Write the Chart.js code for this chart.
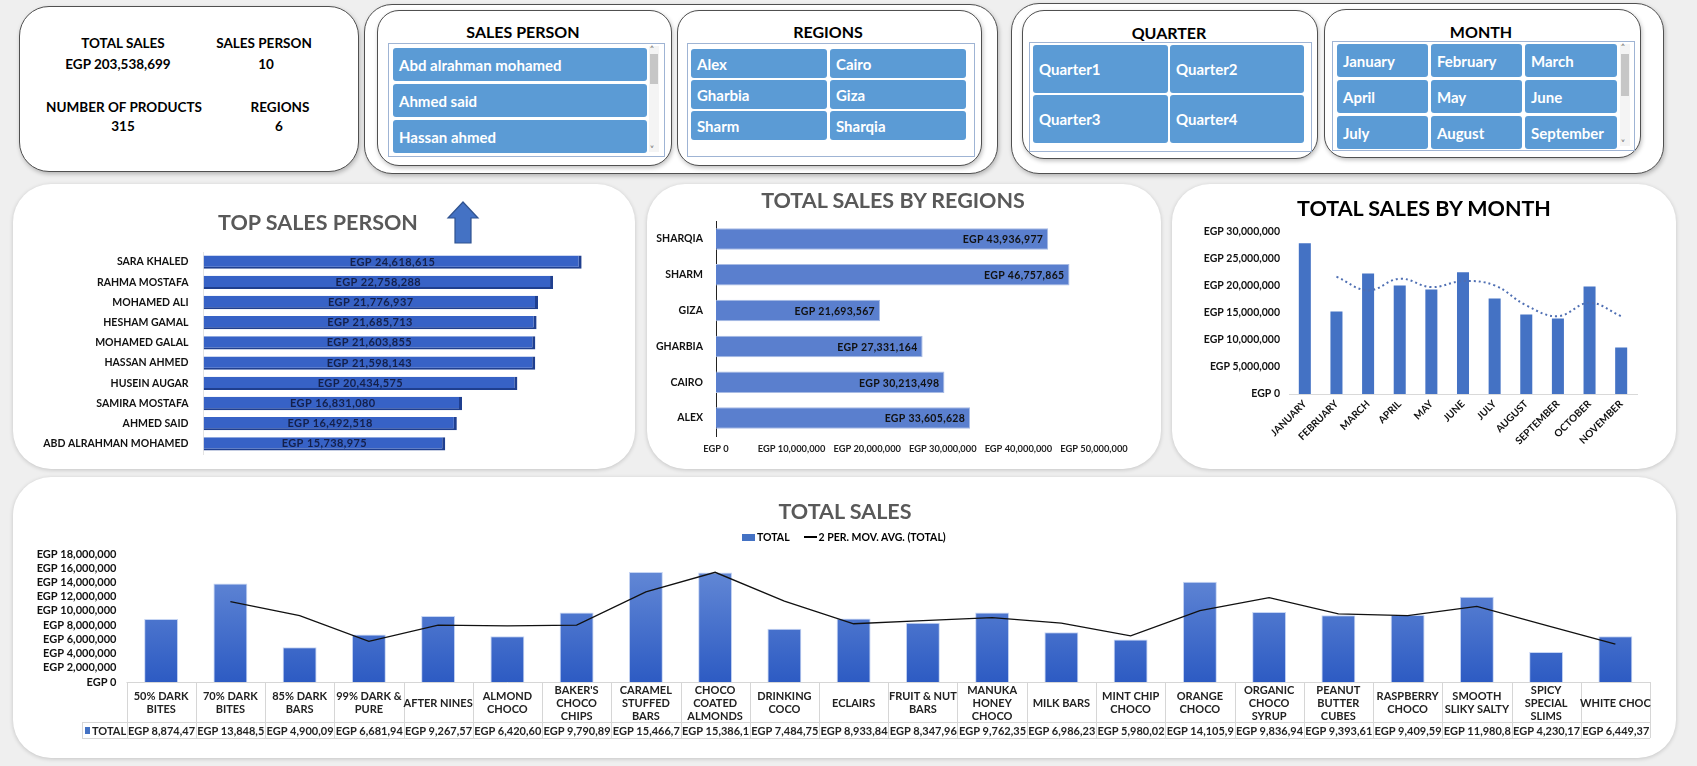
<!DOCTYPE html>
<html>
<head>
<meta charset="utf-8">
<title>Sales Dashboard</title>
<script src="https://cdn.jsdelivr.net/npm/chart.js@4.4.1/dist/chart.umd.min.js"></script>
<style>
  body { margin: 0; background: #efefef; font-family: Lato, "Open Sans", sans-serif; font-weight: bold; color: #000; }
  #page { position: relative; width: 1697px; height: 766px; overflow: hidden; }
  .card { position: absolute; background: #fff; border-radius: 38px; box-shadow: 0 1px 4px rgba(0,0,0,.18); }
  .box { position: absolute; background: #fff; border: 1px solid #505050; box-shadow: 1px 2px 4px rgba(0,0,0,.25); }
  .t { position: absolute; white-space: nowrap; transform: translate(-50%, -50%); }
  .title { font-size: 21.5px; color: #595959; }
  canvas { position: absolute; left: 0; top: 0; }
  .inner { position: absolute; border: 1px solid #9fb4d4; overflow: hidden; background: #fff; }
  .btn { position: absolute; background: #5b9bd5; color: #fff; border-radius: 3px; font-size: 15px;
         box-sizing: border-box; padding-left: 6px; display: flex; align-items: center; white-space: nowrap; overflow: hidden; }
  .sb { position: absolute; background: #f4f4f4; }
  .thumb { position: absolute; background: #c6c6c6; left: 1px; right: 1px; }
  .kpi { font-size: 13.5px; }
  .legend { position: absolute; font-size: 10.5px; display: flex; align-items: center; white-space: nowrap; }
</style>
</head>
<body>
<div id="page">
  <!-- KPI card -->
  <div class="box" style="left:19px;top:6px;width:338px;height:164px;border-radius:30px;"></div>
  <div class="t kpi" style="left:123px;top:43px;">TOTAL SALES</div>
  <div class="t kpi" style="left:118px;top:64px;">EGP 203,538,699</div>
  <div class="t kpi" style="left:264px;top:43px;">SALES PERSON</div>
  <div class="t kpi" style="left:266px;top:64px;">10</div>
  <div class="t kpi" style="left:124px;top:107px;">NUMBER OF PRODUCTS</div>
  <div class="t kpi" style="left:123px;top:126px;">315</div>
  <div class="t kpi" style="left:280px;top:107px;">REGIONS</div>
  <div class="t kpi" style="left:279px;top:126px;">6</div>

  <!-- slicer groups -->
  <div class="box" style="left:364px;top:4px;width:632px;height:168px;border-radius:28px;"></div>
  <div class="box" style="left:377px;top:10px;width:293px;height:154px;border-radius:22px;"></div>
  <div class="box" style="left:677px;top:10px;width:303px;height:154px;border-radius:22px;"></div>
  <div class="box" style="left:1011px;top:3px;width:651px;height:169px;border-radius:28px;"></div>
  <div class="box" style="left:1022px;top:10px;width:294px;height:147px;border-radius:22px;"></div>
  <div class="box" style="left:1324px;top:9px;width:315px;height:147px;border-radius:22px;"></div>
  <div id="slicers"></div>

  <!-- chart cards -->
  <div class="card" style="left:13px;top:184px;width:622px;height:285px;"><canvas id="personChart" width="622" height="285"></canvas></div>
  <div class="card" style="left:647px;top:184px;width:514px;height:285px;"><canvas id="regionChart" width="514" height="285"></canvas></div>
  <div class="card" style="left:1172px;top:184px;width:504px;height:285px;"><canvas id="monthChart" width="504" height="285"></canvas></div>
  <div class="card" style="left:13px;top:477px;width:1663px;height:281px;"><canvas id="productChart" width="1663" height="281"></canvas></div>

  <div class="t title" style="left:318px;top:222px;">TOP SALES PERSON</div>
  <svg style="position:absolute;left:446px;top:201px;" width="34" height="44">
    <polygon points="17,1 32,17 25,17 25,42 9,42 9,17 2,17" fill="#4472c4" stroke="#2f528f" stroke-width="1.2"/>
  </svg>
  <div class="t title" style="left:893px;top:200px;">TOTAL SALES BY REGIONS</div>
  <div class="t title" style="left:1424px;top:208px;color:#000;">TOTAL SALES BY MONTH</div>
  <div class="t title" style="left:845px;top:511px;">TOTAL SALES</div>
  <div class="legend" style="left:742px;top:531px;">
    <span style="display:inline-block;width:13px;height:7px;background:#4472c4;margin-right:2px;"></span>TOTAL
    <span style="display:inline-block;width:13px;height:1.5px;background:#000;margin:0 2px 0 14px;"></span>2 PER. MOV. AVG. (TOTAL)
  </div>
</div>

<script>
// ---- data ----
const salesPersonItems = ['Abd alrahman mohamed', 'Ahmed said', 'Hassan ahmed'];
const regionItems = ['Alex', 'Cairo', 'Gharbia', 'Giza', 'Sharm', 'Sharqia'];
const quarterItems = ['Quarter1', 'Quarter2', 'Quarter3', 'Quarter4'];
const monthItems = ['January', 'February', 'March', 'April', 'May', 'June', 'July', 'August', 'September'];

const personNames = ['SARA KHALED', 'RAHMA MOSTAFA', 'MOHAMED ALI', 'HESHAM GAMAL', 'MOHAMED GALAL',
  'HASSAN AHMED', 'HUSEIN AUGAR', 'SAMIRA MOSTAFA', 'AHMED SAID', 'ABD ALRAHMAN MOHAMED'];
const personSales = [24618615, 22758288, 21776937, 21685713, 21603855, 21598143, 20434575, 16831080, 16492518, 15738975];

const regionNames = ['SHARQIA', 'SHARM', 'GIZA', 'GHARBIA', 'CAIRO', 'ALEX'];
const regionSales = [43936977, 46757865, 21693567, 27331164, 30213498, 33605628];

const monthNames = ['JANUARY', 'FEBRUARY', 'MARCH', 'APRIL', 'MAY', 'JUNE', 'JULY', 'AUGUST', 'SEPTEMBER', 'OCTOBER', 'NOVEMBER'];
const monthSales = [27840000, 15250000, 22280000, 20060000, 19320000, 22470000, 17650000, 14690000, 13950000, 19880000, 8580000];
const monthAvg = [null, 21670000, 19140000, 21300000, 19750000, 20860000, 20060000, 16360000, 14380000, 16850000, 14380000];

const productNames = [['50% DARK', 'BITES'], ['70% DARK', 'BITES'], ['85% DARK', 'BARS'], ['99% DARK &', 'PURE'],
  ['AFTER NINES'], ['ALMOND', 'CHOCO'], ["BAKER'S", 'CHOCO', 'CHIPS'], ['CARAMEL', 'STUFFED', 'BARS'],
  ['CHOCO', 'COATED', 'ALMONDS'], ['DRINKING', 'COCO'], ['ECLAIRS'], ['FRUIT & NUT', 'BARS'],
  ['MANUKA', 'HONEY', 'CHOCO'], ['MILK BARS'], ['MINT CHIP', 'CHOCO'], ['ORANGE', 'CHOCO'],
  ['ORGANIC', 'CHOCO', 'SYRUP'], ['PEANUT', 'BUTTER', 'CUBES'], ['RASPBERRY', 'CHOCO'], ['SMOOTH', 'SLIKY SALTY'],
  ['SPICY', 'SPECIAL', 'SLIMS'], ['WHITE CHOC']];
const productSales = [8874470, 13848500, 4900090, 6681940, 9267570, 6420600, 9790890, 15466700, 15386100, 7484750, 8933840,
  8347960, 9762350, 6986230, 5980020, 14105900, 9836940, 9393610, 9409590, 11980800, 4230170, 6449370];
const productAvg = [null, 11290000, 9330000, 5710000, 8000000, 7900000, 8000000, 12670000, 15430000, 11380000, 8190000,
  8620000, 9050000, 8290000, 6480000, 10050000, 11860000, 9570000, 9330000, 10620000, 7950000, 5330000];

const egp = v => 'EGP ' + Number(v).toLocaleString('en-US');

// ---- slicers (html) ----
const host = document.getElementById('slicers');
function add(html) { host.insertAdjacentHTML('beforeend', html); }

function slicer(title, cx, inner, items, cols, colX, colW, rowY, rowH, scroll) {
  add('<div class="t" style="left:' + cx + 'px;top:' + inner.head + 'px;font-size:16px;">' + title + '</div>');
  let h = '<div class="inner" style="left:' + inner.x + 'px;top:' + inner.y + 'px;width:' + inner.w + 'px;height:' + inner.h + 'px;">';
  items.forEach((it, i) => {
    const c = i % cols, r = Math.floor(i / cols);
    h += '<div class="btn" style="left:' + (colX[c] - inner.x - 1) + 'px;top:' + (rowY[r] - inner.y - 1) +
      'px;width:' + colW[c] + 'px;height:' + rowH + 'px;">' + it + '</div>';
  });
  if (scroll) {
    h += '<div class="sb" style="left:' + (scroll.x - inner.x - 1) + 'px;top:2px;width:10px;height:' + (inner.h - 6) + 'px;">' +
      '<div class="thumb" style="top:' + scroll.t + 'px;height:' + scroll.h + 'px;"></div>' +
      '<div style="position:absolute;top:-3px;left:1px;font-size:8px;color:#777;">&#708;</div>' +
      '<div style="position:absolute;bottom:-1px;left:1px;font-size:8px;color:#777;">&#709;</div></div>';
  }
  add(h + '</div>');
}

slicer('SALES PERSON', 523, {x: 388, y: 43, w: 275, h: 112, head: 31}, salesPersonItems, 1,
  [393], [254], [48, 84, 120], 33, {x: 649, t: 8, h: 30});
slicer('REGIONS', 828, {x: 687, y: 43, w: 286, h: 112, head: 31}, regionItems, 2,
  [691, 830], [136, 136], [49, 80, 111], 29, null);
slicer('QUARTER', 1169, {x: 1029, y: 42, w: 281, h: 108, head: 32}, quarterItems, 2,
  [1033, 1170], [135, 134], [45, 95], 48, null);
slicer('MONTH', 1481, {x: 1332, y: 41, w: 301, h: 108, head: 31}, monthItems, 3,
  [1337, 1431, 1525], [91, 91, 92], [44, 80, 116], 33, {x: 1620, t: 10, h: 42});

// ---- chart.js ----
Chart.defaults.font.family = 'Lato, "Open Sans", sans-serif';
Chart.defaults.font.weight = 'bold';
Chart.defaults.color = '#111';
Chart.defaults.animation = false;
Chart.defaults.responsive = false;
Chart.defaults.plugins.legend.display = false;
Chart.defaults.plugins.tooltip.enabled = false;

// value labels on bars
const barLabels = {
  id: 'barLabels',
  afterDatasetsDraw(chart, args, opts) {
    const ctx = chart.ctx;
    const meta = chart.getDatasetMeta(0);
    ctx.save();
    ctx.font = opts.font;
    ctx.fillStyle = opts.color;
    ctx.textBaseline = 'middle';
    if ('letterSpacing' in ctx) ctx.letterSpacing = opts.spacing || '0px';
    meta.data.forEach((bar, i) => {
      const txt = egp(chart.data.datasets[0].data[i]);
      if (opts.align === 'center') {
        ctx.textAlign = 'center';
        ctx.fillText(txt, (bar.x + bar.base) / 2, bar.y);
      } else {
        ctx.textAlign = 'right';
        ctx.fillText(txt, bar.x - opts.inset, bar.y + 1);
      }
    });
    ctx.restore();
  }
};

// top sales person
new Chart(document.getElementById('personChart'), {
  type: 'bar',
  data: {
    labels: personNames,
    datasets: [{
      data: personSales,
      backgroundColor: '#3762c6',
      borderColor: '#1f3f8f',
      borderWidth: {right: 3, bottom: 2, top: 0, left: 0},
      borderSkipped: false,
      barPercentage: 0.66,
      categoryPercentage: 1
    }]
  },
  options: {
    indexAxis: 'y',
    layout: {padding: {top: 68, bottom: 15, right: 47.5, left: 0}},
    scales: {
      x: {display: false, min: 0, max: 25000000},
      y: {
        grid: {display: false, drawTicks: false},
        border: {color: '#e4e4e4'},
        ticks: {font: {size: 10.5}, padding: 15, color: '#111'},
        afterFit(s) { s.width = 190.5; s.paddingTop = 0; s.paddingBottom = 0; }
      }
    },
    plugins: {barLabels: {align: 'center', font: 'bold 11px Lato', color: '#14204a', spacing: '0.4px'}}
  },
  plugins: [barLabels]
});

// regions
new Chart(document.getElementById('regionChart'), {
  type: 'bar',
  data: {
    labels: regionNames,
    datasets: [{
      data: regionSales,
      backgroundColor: '#5a7fce',
      borderColor: '#a8bbe4',
      borderWidth: 1,
      barPercentage: 0.6,
      categoryPercentage: 1
    }]
  },
  options: {
    indexAxis: 'y',
    layout: {padding: {top: 37, bottom: 0, right: 67, left: 0}},
    scales: {
      x: {
        min: 0, max: 50000000,
        grid: {display: false, drawTicks: false},
        border: {display: false},
        ticks: {stepSize: 10000000, autoSkip: false, maxRotation: 0, padding: 7,
          font: {size: 9.3}, color: '#222', callback: v => egp(v)},
        afterFit(s) { s.height = 33; }
      },
      y: {
        grid: {display: false, drawTicks: false},
        border: {color: '#222', width: 1},
        ticks: {font: {size: 10.5}, padding: 13, color: '#111'},
        afterFit(s) { s.width = 69; s.paddingTop = 0; s.paddingBottom = 0; }
      }
    },
    plugins: {barLabels: {align: 'end', inset: 5, font: 'bold 10.5px Lato', color: '#111', spacing: '0.3px'}}
  },
  plugins: [barLabels]
});

// by month
new Chart(document.getElementById('monthChart'), {
  data: {
    labels: monthNames,
    datasets: [
      {
        type: 'line', order: 0, data: monthAvg,
        borderColor: '#4f6fb3', borderWidth: 2, borderDash: [2, 3], tension: 0.4,
        pointRadius: 0, spanGaps: false, fill: false
      },
      {
        type: 'bar', order: 1, data: monthSales,
        backgroundColor: '#4472c4', barPercentage: 0.38, categoryPercentage: 1
      }
    ]
  },
  options: {
    layout: {padding: {top: 47.6, bottom: 0, right: 39, left: 0}},
    scales: {
      x: {
        grid: {display: false, drawTicks: false},
        border: {color: '#d9d9d9'},
        ticks: {minRotation: 45, maxRotation: 45, autoSkip: false, padding: 4, font: {size: 10}, color: '#111'},
        afterFit(s) { s.height = 75; }
      },
      y: {
        min: 0, max: 30000000,
        grid: {display: false, drawTicks: false},
        border: {display: false},
        ticks: {stepSize: 5000000, padding: 9, font: {size: 10.5}, color: '#111', callback: v => egp(v)},
        afterFit(s) { s.width = 117; }
      }
    }
  }
});

// data table under the product chart
const dataTable = {
  id: 'dataTable',
  afterDraw(chart) {
    const ctx = chart.ctx;
    const a = chart.chartArea;
    const x = chart.scales.x;
    const labels = chart.data.labels;
    const vals = chart.data.datasets[1].data;
    const top = a.bottom, mid = a.bottom + 40, bot = a.bottom + 56;
    const keyLeft = a.left - 44.5;
    const line = (x1, y1, x2, y2) => { ctx.beginPath(); ctx.moveTo(x1, y1); ctx.lineTo(x2, y2); ctx.stroke(); };
    ctx.save();
    ctx.strokeStyle = '#d6d6d6';
    ctx.lineWidth = 1;
    line(a.left, top + 0.5, a.right, top + 0.5);
    line(keyLeft, mid + 0.5, a.right, mid + 0.5);
    line(keyLeft, bot + 0.5, a.right, bot + 0.5);
    line(keyLeft + 0.5, mid, keyLeft + 0.5, bot);
    for (let i = 0; i <= labels.length; i++) {
      const xx = Math.round(x.getPixelForValue(i - 0.5)) + 0.5;
      line(xx, top, xx, bot);
    }
    ctx.fillStyle = '#222';
    ctx.font = 'bold 11px Lato';
    ctx.textAlign = 'center';
    ctx.textBaseline = 'middle';
    labels.forEach((lab, i) => {
      const lines = Array.isArray(lab) ? lab : [lab];
      const cx = x.getPixelForValue(i);
      const y0 = (top + mid) / 2 - (lines.length - 1) * 13 / 2 + 1;
      lines.forEach((t, j) => ctx.fillText(t, cx, y0 + j * 13));
    });
    ctx.textAlign = 'left';
    vals.forEach((v, i) => {
      const l = x.getPixelForValue(i - 0.5), r = x.getPixelForValue(i + 0.5);
      let txt = egp(v);
      while (ctx.measureText(txt).width > r - l - 2) txt = txt.slice(0, -1);
      ctx.fillText(txt, l + 1.5, (mid + bot) / 2 + 1);
    });
    ctx.fillStyle = '#4472c4';
    ctx.fillRect(keyLeft + 3, (mid + bot) / 2 - 3, 5, 7);
    ctx.fillStyle = '#222';
    ctx.fillText('TOTAL', keyLeft + 10, (mid + bot) / 2 + 1);
    ctx.restore();
  }
};

new Chart(document.getElementById('productChart'), {
  data: {
    labels: productNames,
    datasets: [
      {
        type: 'line', order: 0, data: productAvg,
        borderColor: '#111', borderWidth: 1.3, tension: 0, pointRadius: 0, fill: false
      },
      {
        type: 'bar', order: 1, data: productSales,
        backgroundColor(c) {
          const area = c.chart.chartArea;
          if (!area) return '#4472c4';
          const g = c.chart.ctx.createLinearGradient(0, area.top, 0, area.bottom);
          g.addColorStop(0, '#6a8ed8');
          g.addColorStop(1, '#2d5bc3');
          return g;
        },
        borderColor: 'rgba(160,185,235,0.6)', borderWidth: 1,
        barPercentage: 0.49, categoryPercentage: 1
      }
    ]
  },
  options: {
    layout: {padding: {top: 77, bottom: 76, right: 26, left: 0}},
    scales: {
      x: {display: false},
      y: {
        min: 0, max: 18000000,
        grid: {display: false, drawTicks: false},
        border: {display: false},
        ticks: {stepSize: 2000000, autoSkip: false, padding: 10, font: {size: 11}, color: '#111', callback: v => egp(v)},
        afterFit(s) { s.width = 113.5; }
      }
    }
  },
  plugins: [dataTable]
});
</script>
</body>
</html>
